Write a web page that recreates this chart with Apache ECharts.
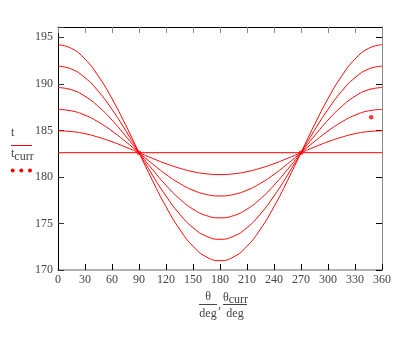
<!DOCTYPE html>
<html>
<head>
<meta charset="utf-8">
<script src="https://cdn.jsdelivr.net/npm/echarts@6/dist/echarts.min.js"></script>
<style>
html, body { margin: 0; padding: 0; background: #fff; }
#main { width: 400px; height: 337px; }
</style>
</head>
<body>
<div id="main"></div>
<script>
// angle samples, degrees
var theta = [0, 15, 30, 45, 60, 75, 90, 105, 120, 135, 150, 165, 180,
             195, 210, 225, 240, 255, 270, 285, 300, 315, 330, 345, 360];

// t curves (largest swing first)
var t1 = [194.2, 193.8, 192.65, 190.8, 188.4, 185.6, 182.6, 179.6, 176.8, 174.4, 172.55, 171.4, 171.0,
          171.4, 172.55, 174.4, 176.8, 179.6, 182.6, 185.6, 188.4, 190.8, 192.65, 193.8, 194.2];
var t2 = [191.9, 191.58, 190.65, 189.18, 187.25, 185.01, 182.6, 180.19, 177.95, 176.02, 174.55, 173.62, 173.3,
          173.62, 174.55, 176.02, 177.95, 180.19, 182.6, 185.01, 187.25, 189.18, 190.65, 191.58, 191.9];
var t3 = [189.6, 189.36, 188.66, 187.55, 186.1, 184.41, 182.6, 180.79, 179.1, 177.65, 176.54, 175.84, 175.6,
          175.84, 176.54, 177.65, 179.1, 180.79, 182.6, 184.41, 186.1, 187.55, 188.66, 189.36, 189.6];
var t4 = [187.25, 187.09, 186.63, 185.89, 184.93, 183.8, 182.6, 181.4, 180.27, 179.31, 178.57, 178.11, 177.95,
          178.11, 178.57, 179.31, 180.27, 181.4, 182.6, 183.8, 184.93, 185.89, 186.63, 187.09, 187.25];
var t5 = [184.95, 184.87, 184.64, 184.26, 183.78, 183.21, 182.6, 181.99, 181.42, 180.94, 180.56, 180.33, 180.25,
          180.33, 180.56, 180.94, 181.42, 181.99, 182.6, 183.21, 183.78, 184.26, 184.64, 184.87, 184.95];
var tFlat = [182.6, 182.6];
var thetaFlat = [0, 360];

// t_curr dots
var thetaCurr = [90, 270, 348];
var tCurr = [182.6, 182.6, 186.4];

var xTicks = [0, 30, 60, 90, 120, 150, 180, 210, 240, 270, 300, 330, 360];
var yTicks = [170, 175, 180, 185, 190, 195];

function pairs(xs, ys) {
    var out = [];
    for (var i = 0; i < xs.length; i++) out.push([xs[i], ys[i]]);
    return out;
}

var dom = document.getElementById("main");
var myChart = echarts.init(dom);
var serif = 'Liberation Serif';

function curve(ys) {
    return {
        type: 'line',
        data: pairs(theta, ys),
        smooth: true,
        symbol: 'none',
        silent: true,
        lineStyle: { color: '#ff0000', width: 1 }
    };
}

var option = {
    animation: false,
    grid: { left: 58, right: 18, top: 27, bottom: 67 },
    xAxis: [{
        type: 'value',
        min: 0, max: 360, interval: 30,
        axisLine: { onZero: false, lineStyle: { color: '#999999', width: 1.5 } },
        axisTick: { inside: true, length: 6, lineStyle: { color: '#000' } },
        axisLabel: { margin: 4, fontFamily: serif, fontSize: 12, color: '#444',
            formatter: function (v) { return xTicks.indexOf(v) >= 0 ? v : ''; } },
        splitLine: { show: false }
    }, {
        type: 'value', position: 'top',
        min: 0, max: 360, interval: 30,
        axisLine: { onZero: false, lineStyle: { color: '#000' } },
        axisTick: { inside: true, length: 6, lineStyle: { color: '#888' } },
        axisLabel: { show: false },
        splitLine: { show: false }
    }],
    yAxis: [{
        type: 'value',
        min: 170, max: 196.1, interval: 5,
        axisLine: { show: true, onZero: false, lineStyle: { color: '#000' } },
        axisTick: { show: true, inside: true, length: 6, lineStyle: { color: '#333' } },
        axisLabel: { margin: 5, fontFamily: serif, fontSize: 12, color: '#444',
            formatter: function (v) { return yTicks.indexOf(v) >= 0 ? v : ''; } },
        splitLine: { show: false }
    }, {
        type: 'value', position: 'right',
        min: 170, max: 196.1, interval: 5,
        axisLine: { show: true, onZero: false, lineStyle: { color: '#888' } },
        axisTick: { show: true, inside: true, length: 6, lineStyle: { color: '#000' } },
        axisLabel: { show: false },
        splitLine: { show: false }
    }],
    series: [
        curve(t1), curve(t2), curve(t3), curve(t4), curve(t5),
        {
            type: 'line',
            data: pairs(thetaFlat, tFlat),
            symbol: 'none',
            silent: true,
            lineStyle: { color: '#ff0000', width: 1 }
        },
        {
            type: 'scatter',
            data: pairs(thetaCurr, tCurr),
            symbolSize: 4.5,
            itemStyle: { color: '#ff0000' }
        }
    ],
    graphic: [
        // legend
        { type: 'text', left: 11, top: 127, style: { text: 't', font: '12px ' + serif, fill: '#444' } },
        { type: 'line', shape: { x1: 11, y1: 145.5, x2: 32, y2: 145.5 }, style: { stroke: '#ff0000', lineWidth: 1 } },
        { type: 'text', left: 11, top: 148, style: {
            text: 't{s|curr}', font: '12px ' + serif, fill: '#444',
            rich: { s: { fontFamily: serif, fontSize: 12, fill: '#444', padding: [6, 0, 0, 0] } } } },
        { type: 'circle', shape: { cx: 12.7, cy: 170.5, r: 2 }, style: { fill: '#ff0000' } },
        { type: 'circle', shape: { cx: 21.3, cy: 170.5, r: 2 }, style: { fill: '#ff0000' } },
        { type: 'circle', shape: { cx: 30, cy: 170.5, r: 2 }, style: { fill: '#ff0000' } },
        // x axis title
        { type: 'text', x: 208, y: 291, style: { text: 'θ', font: '12px ' + serif, fill: '#444', align: 'center' } },
        { type: 'line', shape: { x1: 199, y1: 304.5, x2: 217, y2: 304.5 }, style: { stroke: '#444', lineWidth: 1 } },
        { type: 'text', x: 208, y: 308, style: { text: 'deg', font: '12px ' + serif, fill: '#444', align: 'center' } },
        { type: 'text', x: 218, y: 299, style: { text: ',', font: '12px ' + serif, fill: '#444' } },
        { type: 'text', x: 223, y: 290, style: {
            text: 'θ{s|curr}', font: '12px ' + serif, fill: '#444',
            rich: { s: { fontFamily: serif, fontSize: 12, fill: '#444', padding: [4, 0, 0, 0] } } } },
        { type: 'line', shape: { x1: 223, y1: 304.5, x2: 247, y2: 304.5 }, style: { stroke: '#444', lineWidth: 1 } },
        { type: 'text', x: 235, y: 308, style: { text: 'deg', font: '12px ' + serif, fill: '#444', align: 'center' } }
    ]
};

myChart.setOption(option, true);
</script>
</body>
</html>
